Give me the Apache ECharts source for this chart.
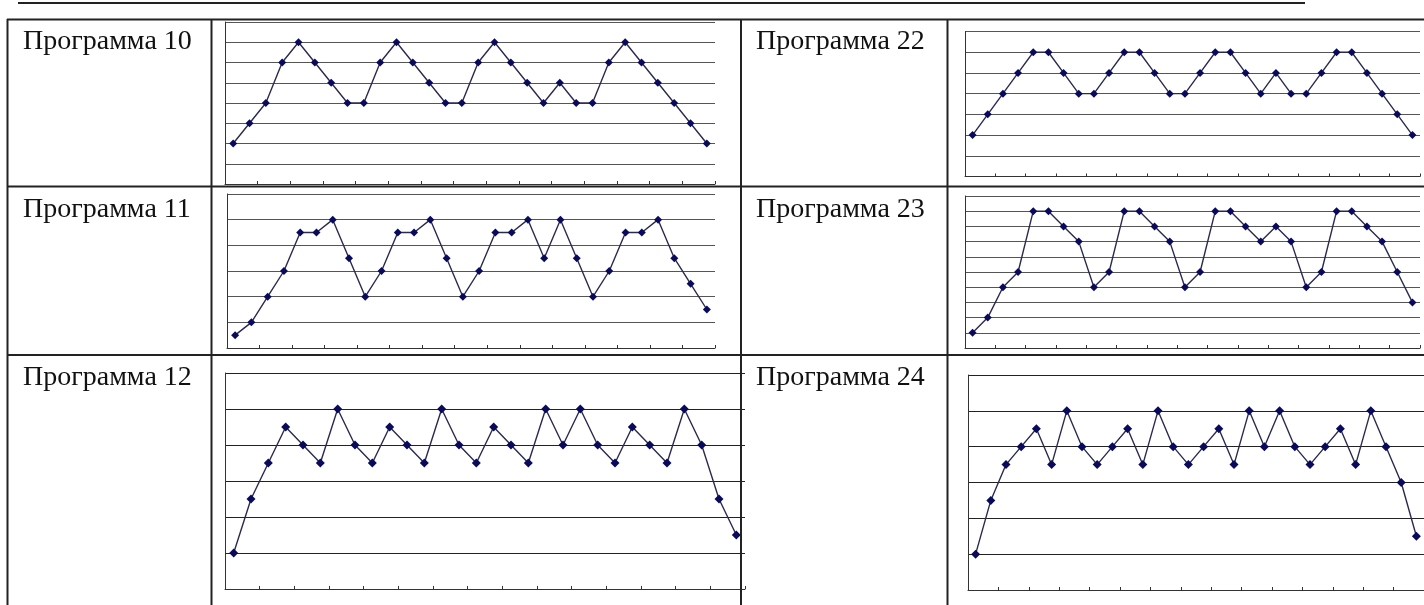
<!DOCTYPE html>
<html>
<head>
<meta charset="utf-8">
<script src="https://cdn.jsdelivr.net/npm/echarts@6/dist/echarts.min.js"></script>
<style>
html,body{margin:0;padding:0;background:#fff;}
#c{width:1424px;height:605px;}
</style>
</head>
<body>
<div id="c"></div>
<script>
// ---- data ----
const categories = Array.from({length: 30}, (_, i) => String(i + 1));
const labels = ['Программа 10', 'Программа 11', 'Программа 12', 'Программа 22', 'Программа 23', 'Программа 24'];
const values10 = [2,3,4,6,7,6,5,4,4,6,7,6,5,4,4,6,7,6,5,4,5,4,4,6,7,6,5,4,3,2];
const values11 = [0.5,1,2,3,4.5,4.5,5,3.5,2,3,4.5,4.5,5,3.5,2,3,4.5,4.5,5,3.5,5,3.5,2,3,4.5,4.5,5,3.5,2.5,1.5];
const values12 = [1,2.5,3.5,4.5,4,3.5,5,4,3.5,4.5,4,3.5,5,4,3.5,4.5,4,3.5,5,4,5,4,3.5,4.5,4,3.5,5,4,2.5,1.5];
const values22 = [2,3,4,5,6,6,5,4,4,5,6,6,5,4,4,5,6,6,5,4,5,4,4,5,6,6,5,4,3,2];
const values23 = [1,2,4,5,9,9,8,7,4,5,9,9,8,7,4,5,9,9,8,7,8,7,4,5,9,9,8,7,5,3];
const values24 = [1,2.5,3.5,4,4.5,3.5,5,4,3.5,4,4.5,3.5,5,4,3.5,4,4.5,3.5,5,4,5,4,3.5,4,4.5,3.5,5,4,3,1.5];
const yMax = [8, 6, 6, 7, 10, 6];
const seriesData = [values10, values11, values12, values22, values23, values24];

// ---- layout (px) ----
const grids = [
  {left: 225, top: 22, width: 490, height: 162},
  {left: 227, top: 194, width: 488, height: 154},
  {left: 225, top: 373, width: 520, height: 216},
  {left: 965, top: 31.5, width: 455, height: 145},
  {left: 965, top: 196, width: 455, height: 152},
  {left: 968, top: 375, width: 460, height: 215}
];
const gridColor = ['#555', '#555', '#222', '#555', '#555', '#222'];
const symSize = [8, 8, 9, 8, 8, 9];

const xAxes = [], yAxes = [], series = [];
for (let i = 0; i < 6; i++) {
  xAxes.push({
    type: 'category', gridIndex: i, data: categories, boundaryGap: true,
    axisLine: {show: true, lineStyle: {color: '#333', width: 1}},
    axisTick: {show: true, inside: true, length: 3, lineStyle: {color: '#333'}},
    axisLabel: {show: false}, splitLine: {show: false}
  });
  yAxes.push({
    type: 'value', gridIndex: i, min: 0, max: yMax[i], interval: 1,
    axisLine: {show: true, lineStyle: {color: '#333', width: 1}},
    axisTick: {show: false}, axisLabel: {show: false},
    splitLine: {show: true, lineStyle: {color: gridColor[i], width: 1}}
  });
  series.push({
    type: 'line', xAxisIndex: i, yAxisIndex: i, data: seriesData[i],
    symbol: 'diamond', symbolSize: symSize[i], showSymbol: true,
    lineStyle: {color: '#2a2a50', width: 1.4},
    itemStyle: {color: '#0a0a5c', borderWidth: 0},
    animation: false, silent: true
  });
}

// ---- table drawing ----
const lineC = '#222';
function hline(x1, x2, y, w) { return {type: 'line', shape: {x1: x1, y1: y, x2: x2, y2: y}, style: {stroke: lineC, lineWidth: w || 1.5}, z: 100}; }
function vline(x, y1, y2, w) { return {type: 'line', shape: {x1: x, y1: y1, x2: x, y2: y2}, style: {stroke: lineC, lineWidth: w || 1.5}, z: 100}; }
const labelPos = [[23, 42], [23, 210], [23, 378], [756, 42], [756, 210], [756, 378]];
const graphics = [
  hline(18, 1305, 3, 2),
  hline(7, 1424, 19.5, 2),
  hline(7, 1424, 186.5, 2),
  hline(7, 1424, 355, 2),
  vline(7.5, 19, 605, 2),
  vline(211.5, 19, 605, 2),
  vline(741, 19, 605, 2),
  vline(947.5, 19, 605, 2)
];
labels.forEach((t, i) => {
  graphics.push({type: 'text', x: labelPos[i][0], y: labelPos[i][1], z: 101,
    style: {text: t, font: '28px "Liberation Serif", "Times New Roman", serif', fill: '#111', textAlign: 'left', textVerticalAlign: 'middle'}});
});

const chart = echarts.init(document.getElementById('c'), null, {renderer: 'canvas'});
chart.setOption({
  animation: false,
  backgroundColor: '#fff',
  grid: grids.map(g => Object.assign({containLabel: false}, g)),
  xAxis: xAxes,
  yAxis: yAxes,
  series: series,
  graphic: graphics
});
</script>
</body>
</html>
